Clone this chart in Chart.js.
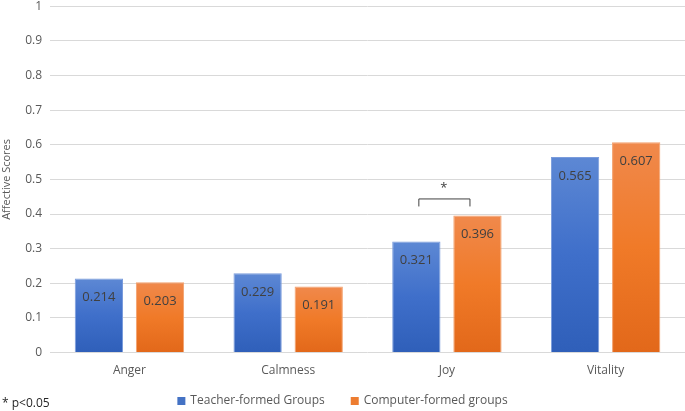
<!DOCTYPE html>
<html>
<head>
<meta charset="utf-8">
<script src="https://cdn.jsdelivr.net/npm/chart.js@4"></script>
<style>
  html, body { margin: 0; padding: 0; background: #fff; overflow: hidden; }
  #wrap { width: 685px; height: 411px; position: relative; overflow: hidden; }
  #inner { position: absolute; left: 0; top: -9px; width: 685px; height: 420px; }
</style>
</head>
<body>
<div id="wrap"><div id="inner"><canvas id="chart"></canvas></div></div>
<script>
// data
const categories = ['Anger', 'Calmness', 'Joy', 'Vitality'];
const teacherScores = [0.214, 0.229, 0.321, 0.565];
const computerScores = [0.203, 0.191, 0.396, 0.607];
const yTickLabels = ['0', '0.1', '0.2', '0.3', '0.4', '0.5', '0.6', '0.7', '0.8', '0.9', '1'];

const FONT = "'Open Sans', sans-serif";
const GREY = '#595959';
const OFFSET = 9; // canvas is shifted up by this much

// vertical gradient running over each bar's own height
function gradient(top, mid, bottom) {
  return (ctx) => {
    const chart = ctx.chart;
    const y = chart.scales.y;
    if (!chart.chartArea || !y || ctx.raw == null) return mid;
    const g = chart.ctx.createLinearGradient(0, y.getPixelForValue(ctx.raw), 0, y.getPixelForValue(0));
    g.addColorStop(0, top);
    g.addColorStop(0.5, mid);
    g.addColorStop(1, bottom);
    return g;
  };
}

// values inside bars, bracket over Joy, legend, footnote
const extras = {
  id: 'extras',
  afterDatasetsDraw(chart) {
    const c = chart.ctx;
    c.save();
    c.font = '13px ' + FONT;
    c.fillStyle = '#404040';
    c.textAlign = 'center';
    c.textBaseline = 'middle';
    chart.data.datasets.forEach((ds, i) => {
      chart.getDatasetMeta(i).data.forEach((bar, j) => {
        c.fillText(ds.data[j].toFixed(3), bar.x, bar.y + 19);
      });
    });

    // significance bracket on Joy
    const j = categories.indexOf('Joy');
    const a = chart.getDatasetMeta(0).data[j];
    const b = chart.getDatasetMeta(1).data[j];
    const y = chart.scales.y.getPixelForValue(0.445);
    const x1 = a.x + 2, x2 = b.x - 8;
    c.strokeStyle = '#404040';
    c.lineWidth = 1;
    c.beginPath();
    c.moveTo(x1 + 0.5, y + 8);
    c.lineTo(x1 + 0.5, y + 0.5);
    c.lineTo(x2 + 0.5, y + 0.5);
    c.lineTo(x2 + 0.5, y + 8);
    c.stroke();
    c.fillText('*', (x1 + x2) / 2, y - 10);

    // legend
    const swatches = ['#4472c4', '#ed7d31'];
    const gap = 5, spacing = 26, box = 8;
    c.font = '12px ' + FONT;
    const widths = chart.data.datasets.map((ds) => box + gap + c.measureText(ds.label).width);
    const total = widths.reduce((s, w) => s + w, 0) + spacing * (widths.length - 1);
    let lx = chart.width / 2 - total / 2;
    const ly = 401 + OFFSET;
    c.textAlign = 'left';
    chart.data.datasets.forEach((ds, i) => {
      c.fillStyle = swatches[i];
      c.fillRect(lx, ly - box / 2, box, box);
      c.fillStyle = GREY;
      c.fillText(ds.label, lx + box + gap, ly);
      lx += widths[i] + spacing;
    });

    c.fillStyle = '#262626';
    c.fillText('* p<0.05', 2, 404 + OFFSET);
    c.restore();
  }
};

new Chart(document.getElementById('chart'), {
  type: 'bar',
  data: {
    labels: categories,
    datasets: [
      {
        label: 'Teacher-formed Groups',
        data: teacherScores,
        backgroundColor: gradient('#5d88d4', '#3f6fca', '#2f5fb9'),
        borderColor: '#7a9cdc',
        borderWidth: 1
      },
      {
        label: 'Computer-formed groups',
        data: computerScores,
        backgroundColor: gradient('#f0894c', '#f07a28', '#e2681a'),
        borderColor: '#f3a06c',
        borderWidth: 1
      }
    ]
  },
  options: {
    responsive: true,
    maintainAspectRatio: false,
    animation: false,
    categoryPercentage: 0.77,
    barPercentage: 0.79,
    layout: { padding: { top: 0, right: 0, left: 0, bottom: 30 } },
    plugins: {
      tooltip: { enabled: false },
      legend: { display: false }
    },
    scales: {
      x: {
        grid: { display: false },
        border: { display: false },
        ticks: { color: GREY, font: { family: FONT, size: 12 }, padding: 3 }
      },
      y: {
        min: 0,
        max: 1,
        border: { display: false },
        grid: { color: '#d9d9d9', drawTicks: false },
        title: {
          display: true,
          text: 'Affective Scores',
          color: GREY,
          font: { family: FONT, size: 11 },
          padding: { top: 0, bottom: 4 }
        },
        ticks: {
          stepSize: 0.1,
          color: GREY,
          font: { family: FONT, size: 12 },
          padding: 8,
          callback: (v, i) => yTickLabels[i]
        }
      }
    }
  },
  plugins: [extras]
});
</script>
</body>
</html>
